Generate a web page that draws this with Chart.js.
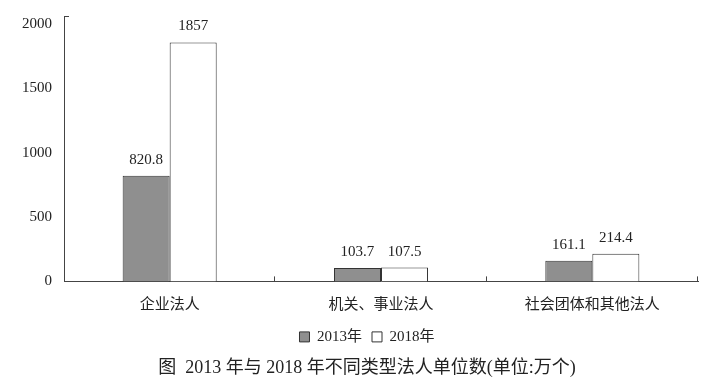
<!DOCTYPE html>
<html>
<head>
<meta charset="utf-8">
<script src="https://cdn.jsdelivr.net/npm/chart.js@4.4.0/dist/chart.umd.min.js"></script>
<style>
  body { margin: 0; background: #fff; }
</style>
</head>
<body>
<canvas id="chart" width="708" height="388"></canvas>
<script>
const categories = ['企业法人', '机关、事业法人', '社会团体和其他法人'];
const values2013 = [820.8, 103.7, 161.1];
const values2018 = [1857, 107.5, 214.4];
const yTicks = [0, 500, 1000, 1500, 2000];
const seriesNames = ['2013年', '2018年'];

const fontFamily = '"Liberation Serif", "Times New Roman", "Noto Sans CJK SC", serif';
const textColor = '#222';
const axisColor = '#444';

// value labels above each bar
const barLabels = {
    id: 'barLabels',
    afterDatasetsDraw(chart) {
        const ctx = chart.ctx;
        ctx.save();
        ctx.font = '15px ' + fontFamily;
        ctx.fillStyle = textColor;
        ctx.textAlign = 'center';
        ctx.textBaseline = 'middle';
        chart.data.datasets.forEach((ds, i) => {
            chart.getDatasetMeta(i).data.forEach((bar, j) => {
                ctx.fillText(String(ds.data[j]), bar.x, bar.y - 16);
            });
        });
        ctx.restore();
    }
};

// small inward tick marks like the original
const axisTicks = {
    id: 'axisTicks',
    afterDraw(chart) {
        const {ctx, chartArea} = chart;
        const step = (chartArea.right - chartArea.left) / categories.length;
        ctx.save();
        ctx.strokeStyle = axisColor;
        ctx.lineWidth = 1;
        ctx.beginPath();
        for (let i = 1; i <= categories.length; i++) {
            const px = Math.round(chartArea.left + step * i) - 0.5;
            ctx.moveTo(px, chartArea.bottom);
            ctx.lineTo(px, chartArea.bottom - 5);
        }
        ctx.moveTo(chartArea.left, chartArea.top + 0.5);
        ctx.lineTo(chartArea.left + 5, chartArea.top + 0.5);
        ctx.stroke();
        ctx.restore();
    }
};

new Chart(document.getElementById('chart').getContext('2d'), {
    type: 'bar',
    data: {
        labels: categories,
        datasets: [{
            label: seriesNames[0],
            data: values2013,
            backgroundColor: '#8f8f8f',
            borderColor: '#333',
            borderWidth: 1,
            categoryPercentage: 0.445,
            barPercentage: 1
        }, {
            label: seriesNames[1],
            data: values2018,
            backgroundColor: '#fff',
            borderColor: '#333',
            borderWidth: 1,
            categoryPercentage: 0.445,
            barPercentage: 1
        }]
    },
    options: {
        responsive: false,
        animation: false,
        layout: {
            // negative right padding shifts the legend/title centre to the right
            padding: { left: 0, right: -26, top: 16, bottom: 5 }
        },
        plugins: {
            legend: {
                position: 'bottom',
                labels: {
                    boxWidth: 10,
                    boxHeight: 10,
                    padding: 10,
                    color: textColor,
                    font: { family: fontFamily, size: 15 }
                }
            },
            title: {
                display: true,
                position: 'bottom',
                text: '图  2013 年与 2018 年不同类型法人单位数(单位:万个)',
                color: textColor,
                font: { family: fontFamily, size: 18, weight: 'normal' },
                padding: { top: 3, bottom: 4 }
            },
            tooltip: { enabled: false }
        },
        scales: {
            x: {
                grid: { display: false },
                border: { display: true, color: axisColor, width: 1 },
                ticks: {
                    color: textColor,
                    padding: 7,
                    font: { family: fontFamily, size: 15 }
                },
                afterFit(scale) { scale.height = 38; }
            },
            y: {
                min: 0,
                max: 2062,
                grid: { display: false },
                border: { display: true, color: axisColor, width: 1 },
                ticks: {
                    color: textColor,
                    padding: 4,
                    font: { family: fontFamily, size: 15 },
                    callback: v => String(v)
                },
                afterBuildTicks(scale) {
                    scale.ticks = yTicks.map(v => ({ value: v }));
                },
                afterFit(scale) {
                    scale.width = 64;
                    scale.paddingTop = 0;
                    scale.paddingBottom = 0;
                }
            },
            // empty spacer on the right so the plot ends where the original does
            spacer: {
                type: 'linear',
                position: 'right',
                grid: { display: false },
                border: { display: false },
                ticks: { display: false },
                afterFit(scale) {
                    scale.width = 36;
                    scale.paddingTop = 0;
                    scale.paddingBottom = 0;
                }
            }
        }
    },
    plugins: [barLabels, axisTicks]
});
</script>
</body>
</html>
